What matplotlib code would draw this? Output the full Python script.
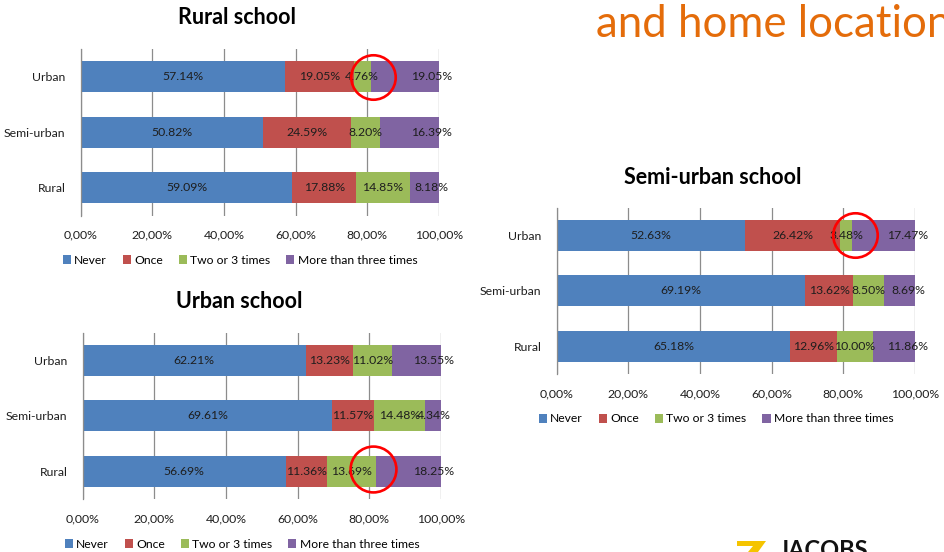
import numpy as np
import matplotlib.pyplot as plt
from matplotlib.patches import Polygon

plt.rcParams['font.family'] = ['Lato', 'DejaVu Sans']

locations = ['Rural', 'Semi-urban', 'Urban']
answers = ['Never', 'Once', 'Two or 3 times', 'More than three times']
colors = ['#4F81BD', '#C0504D', '#9BBB59', '#8064A2']
xtick_values = [0, 20, 40, 60, 80, 100]
xtick_labels = ['0,00%', '20,00%', '40,00%', '60,00%', '80,00%', '100,00%']

# rows: home location (Rural, Semi-urban, Urban), columns: answers
rural_school = [[59.09, 17.88, 14.85, 8.18],
                [50.82, 24.59, 8.20, 16.39],
                [57.14, 19.05, 4.76, 19.05]]
urban_school = [[56.69, 11.36, 13.69, 18.25],
                [69.61, 11.57, 14.48, 4.34],
                [62.21, 13.23, 11.02, 13.55]]
semi_urban_school = [[65.18, 12.96, 10.00, 11.86],
                     [69.19, 13.62, 8.50, 8.69],
                     [52.63, 26.42, 3.48, 17.47]]

W, H = 944, 552
fig = plt.figure(figsize=(W / 100, H / 100), dpi=100)
fig.patch.set_facecolor('white')


def px_axes(x0, y0, x1, y1):
    return fig.add_axes([x0 / W, 1 - y1 / H, (x1 - x0) / W, (y1 - y0) / H])


def draw_chart(ax, data, title, title_xy, legend_xy, circle_xy, circle_ms):
    data = np.array(data)
    y = np.arange(len(locations))
    left = np.zeros(len(locations))
    for i, name in enumerate(answers):
        vals = data[:, i]
        ax.barh(y, vals, left=left, height=0.56, color=colors[i], label=name, zorder=2)
        for yy, l, v in zip(y, left, vals):
            xpos = l + v / 2 if i < len(answers) - 1 else max(l + v / 2, 98)
            ax.text(xpos, yy, f'{v:.2f}%', ha='center', va='center',
                    fontsize=8.8, color='#1E1E1E', zorder=3, clip_on=False)
        left += vals

    ax.set_xlim(0, 100)
    ax.set_ylim(-0.5, 2.5)
    ax.set_yticks(y)
    ax.set_yticklabels(locations)
    ax.set_xticks(xtick_values)
    ax.set_xticklabels(xtick_labels)
    ax.tick_params(axis='both', length=0, labelsize=8.8, colors='#1E1E1E')
    ax.tick_params(axis='y', pad=11)
    ax.tick_params(axis='x', pad=10)
    ax.grid(axis='x', color='#8C8C8C', linewidth=0.9)
    ax.set_axisbelow(True)
    for s in ['top', 'right', 'bottom']:
        ax.spines[s].set_visible(False)
    ax.spines['left'].set_color('#8C8C8C')
    ax.spines['left'].set_linewidth(0.9)

    # red highlight circle
    ax.plot([circle_xy[0]], [circle_xy[1]], 'o', ms=circle_ms, mfc='none',
            mec='#FF0000', mew=1.9, clip_on=False, zorder=5)

    fig.text(title_xy[0] / W, 1 - title_xy[1] / H, title, ha='center', va='center',
             fontsize=15.5, fontweight='bold', color='black')

    handles, labels = ax.get_legend_handles_labels()
    fig.legend(handles, labels, loc='center',
               bbox_to_anchor=(legend_xy[0] / W, 1 - legend_xy[1] / H),
               ncol=4, frameon=False, fontsize=8.7, handlelength=0.7,
               handleheight=0.7, handletextpad=0.25, columnspacing=1.3,
               borderpad=0, borderaxespad=0)


ax1 = px_axes(80.7, 49, 439, 215.5)
draw_chart(ax1, rural_school, 'Rural school', (237, 18), (240, 260), (81.5, 2), 32)

ax2 = px_axes(82.7, 332.7, 441, 499.2)
draw_chart(ax2, urban_school, 'Urban school', (239, 302), (242, 544), (81.0, 0.05), 33)

ax3 = px_axes(556.7, 207.7, 915, 374.2)
draw_chart(ax3, semi_urban_school, 'Semi-urban school', (713, 177), (716, 419), (83.3, 2), 32)

# slide heading fragment
fig.text(596 / W, 1 - 37 / H, 'and home location', color='#E46C0A', fontsize=31.5,
         va='baseline', ha='left')

# logo fragments at bottom edge
fig.text(779 / W, 1 - 558 / H, 'JACOBS', fontsize=17, fontweight='bold',
         va='baseline', ha='left', color='#111111')
logo = [(737, 541), (766, 541), (758, 552), (748, 552), (753, 546), (737, 546)]
fig.patches.append(Polygon([(x / W, 1 - yy / H) for x, yy in logo], closed=True,
                           facecolor='#F5C400', edgecolor='none',
                           transform=fig.transFigure, figure=fig))

fig.savefig('out.png', dpi=100)
